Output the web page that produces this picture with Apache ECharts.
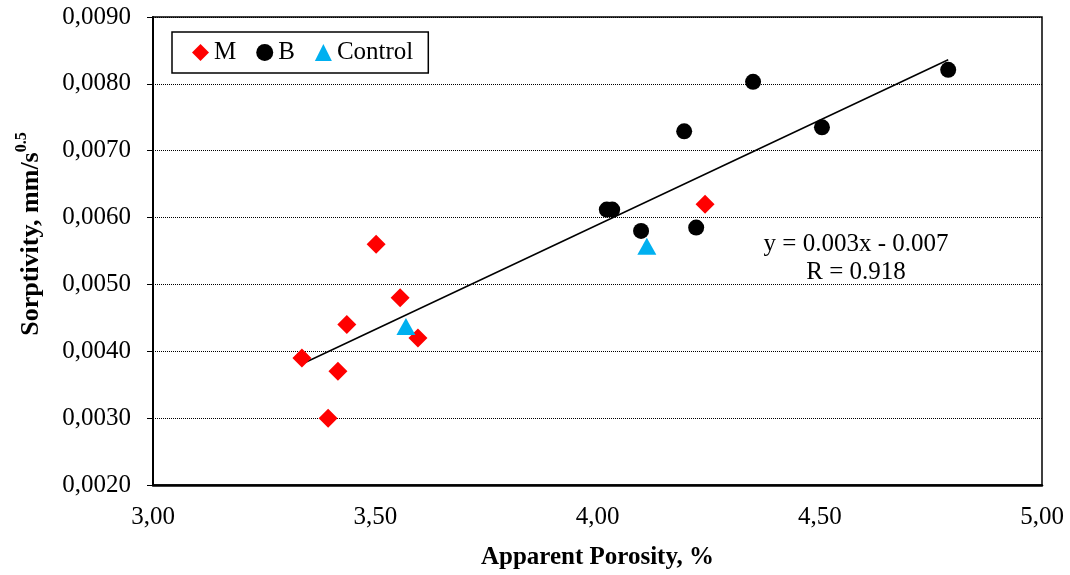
<!DOCTYPE html>
<html>
<head>
<meta charset="utf-8">
<script src="https://cdn.jsdelivr.net/npm/echarts@6/dist/echarts.min.js"></script>
<style>
html,body{margin:0;padding:0;background:#fff;}
#chart{width:1070px;height:575px;}
</style>
</head>
<body>
<div id="chart"></div>
<script>
// Data
const mX = [3.335, 3.416, 3.394, 3.436, 3.502, 3.556, 3.596, 4.242];
const mY = [0.0039, 0.0037, 0.0030, 0.0044, 0.0056, 0.0048, 0.0042, 0.0062];
const bX = [4.021, 4.033, 4.098, 4.195, 4.222, 4.350, 4.505, 4.789];
const bY = [0.00612, 0.00612, 0.00580, 0.00729, 0.00585, 0.00803, 0.00735, 0.00821];
const cX = [3.569, 4.111];
const cY = [0.00437, 0.00557];
const trendX = [3.335, 4.789];
const trendY = [0.00381, 0.00836];
const xTicks = [3.0, 3.5, 4.0, 4.5, 5.0];
const yTicks = [0.002, 0.003, 0.004, 0.005, 0.006, 0.007, 0.008, 0.009];
const eqLines = ['y = 0.003x - 0.007', 'R = 0.918'];

const zip = (a, b) => a.map((v, i) => [v, b[i]]);
const FONT = 'Liberation Serif';
const FS = 25;

const chart = echarts.init(document.getElementById('chart'), null, {renderer: 'canvas'});
chart.setOption({
  backgroundColor: '#fff',
  animation: false,
  textStyle: {fontFamily: FONT, color: '#000'},
  grid: {left: 153, top: 17, right: 28, bottom: 90, show: true, borderColor: '#000', borderWidth: 1.5},
  legend: {
    data: ['M', 'B', 'Control'],
    left: 172, top: 32,
    padding: [8, 15, 8, 20],
    itemWidth: 17, itemHeight: 17, itemGap: 20,
    borderColor: '#000', borderWidth: 1.5,
    textStyle: {fontFamily: FONT, fontSize: FS, color: '#000'}
  },
  xAxis: {
    type: 'value', min: xTicks[0], max: xTicks[xTicks.length - 1], interval: 0.5,
    axisLine: {lineStyle: {color: '#000', width: 2.5}},
    axisTick: {show: false},
    splitLine: {show: false},
    axisLabel: {fontFamily: FONT, fontSize: FS, color: '#000', margin: 20,
      formatter: v => v.toFixed(2).replace('.', ',')},
    name: 'Apparent Porosity, %', nameLocation: 'middle', nameGap: 60,
    nameTextStyle: {fontFamily: FONT, fontSize: FS, fontWeight: 'bold', color: '#000'}
  },
  yAxis: {
    type: 'value', min: yTicks[0], max: yTicks[yTicks.length - 1], interval: 0.001,
    axisLine: {show: true, lineStyle: {color: '#000', width: 2}},
    axisTick: {show: true, length: 6, lineStyle: {color: '#000', width: 1}},
    splitLine: {show: true, lineStyle: {type: 'dotted', color: '#000', width: 1}},
    axisLabel: {fontFamily: FONT, fontSize: FS, color: '#000', margin: 22,
      formatter: v => v.toFixed(4).replace('.', ',')}
  },
  graphic: [
    {
      type: 'text', x: 29, y: 234, rotation: Math.PI / 2,
      style: {
        text: '{a|Sorptivity, mm/s}{b|0.5}',
        align: 'center', verticalAlign: 'middle',
        rich: {
          a: {fontFamily: FONT, fontSize: 26, fontWeight: 'bold', fill: '#000', lineHeight: 30, verticalAlign: 'bottom'},
          b: {fontFamily: FONT, fontSize: 16, fontWeight: 'bold', fill: '#000', lineHeight: 30, verticalAlign: 'top', padding: [0, 0, 14, 0]}
        }
      }
    },
    {
      type: 'text', x: 856, y: 244,
      style: {text: eqLines[0], font: FS + 'px "Liberation Serif"', fill: '#000', align: 'center', verticalAlign: 'middle'}
    },
    {
      type: 'text', x: 856, y: 272,
      style: {text: eqLines[1], font: FS + 'px "Liberation Serif"', fill: '#000', align: 'center', verticalAlign: 'middle'}
    }
  ],
  series: [
    {
      name: 'trend', type: 'line', data: zip(trendX, trendY), symbol: 'none',
      lineStyle: {color: '#000', width: 1.5}, z: 1, silent: true
    },
    {
      name: 'M', type: 'scatter', data: zip(mX, mY), symbol: 'diamond', symbolSize: [19, 19],
      itemStyle: {color: '#FF0000', opacity: 1}, z: 3
    },
    {
      name: 'B', type: 'scatter', data: zip(bX, bY), symbol: 'circle', symbolSize: 16,
      itemStyle: {color: '#000000', opacity: 1}, z: 3
    },
    {
      name: 'Control', type: 'scatter', data: zip(cX, cY), symbol: 'triangle', symbolSize: [19, 17],
      itemStyle: {color: '#00B0F0', opacity: 1}, z: 3
    }
  ]
});
</script>
</body>
</html>
